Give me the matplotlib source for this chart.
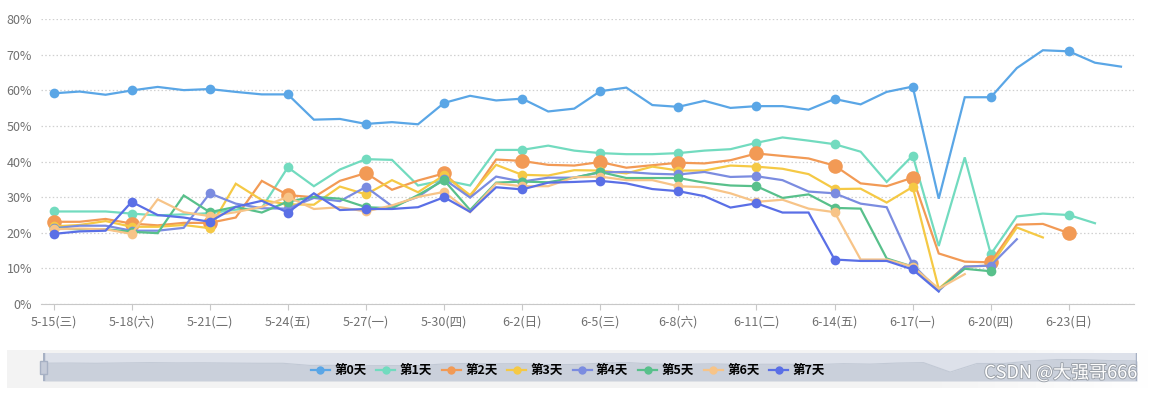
import numpy as np
import matplotlib
matplotlib.use("Agg")
import matplotlib.pyplot as plt
import matplotlib.patheffects as pe
from matplotlib.lines import Line2D

plt.rcParams['font.family'] = ['Noto Sans CJK SC', 'DejaVu Sans']

# Fechas (5-15 .. 6-25), etiquetas cada 3 días
fechas = ["5-15", "5-16", "5-17", "5-18", "5-19", "5-20", "5-21", "5-22", "5-23", "5-24",
          "5-25", "5-26", "5-27", "5-28", "5-29", "5-30", "5-31", "6-1", "6-2", "6-3",
          "6-4", "6-5", "6-6", "6-7", "6-8", "6-9", "6-10", "6-11", "6-12", "6-13",
          "6-14", "6-15", "6-16", "6-17", "6-18", "6-19", "6-20", "6-21", "6-22", "6-23",
          "6-24", "6-25"]
etiquetas_x = ["5-15(三)", "5-18(六)", "5-21(二)", "5-24(五)", "5-27(一)", "5-30(四)", "6-2(日)",
               "6-5(三)", "6-8(六)", "6-11(二)", "6-14(五)", "6-17(一)", "6-20(四)", "6-23(日)"]

nan = np.nan
dia0 = [59.2, 59.7, 58.8, 60.0, 61.0, 60.1, 60.4, 59.6, 58.9, 58.9, 51.8, 52.0, 50.6, 51.1,
        50.5, 56.5, 58.5, 57.2, 57.7, 54.1, 54.9, 59.8, 60.8, 55.9, 55.4, 57.1, 55.1, 55.6,
        55.6, 54.6, 57.6, 56.1, 59.6, 61.1, 29.6, 58.1, 58.1, 66.3, 71.3, 71.0, 67.8, 66.7]
dia1 = [26.0, 26.0, 26.0, 25.4, 24.9, 25.2, 25.5, 26.5, 27.0, 38.4, 33.1, 37.8, 40.7, 40.5,
        33.3, 34.8, 33.3, 43.3, 43.3, 44.5, 43.1, 42.4, 42.1, 42.1, 42.4, 43.1, 43.5, 45.3,
        46.8, 45.9, 44.9, 42.8, 34.3, 41.7, 16.3, 41.2, 14.0, 24.6, 25.4, 25.0, 22.7, nan]
dia2 = [23.1, 23.1, 23.9, 22.6, 22.1, 22.8, 22.8, 24.3, 34.6, 30.6, 30.0, 34.6, 36.8, 32.1,
        34.7, 36.7, 30.1, 40.6, 40.2, 39.1, 38.9, 39.9, 38.3, 39.0, 39.7, 39.5, 40.4, 42.3,
        41.6, 40.9, 38.9, 33.9, 33.1, 35.5, 14.2, 11.9, 11.7, 22.3, 22.5, 19.9, nan, nan]
dia3 = [21.8, 22.2, 23.3, 21.7, 21.7, 22.2, 21.3, 33.8, 29.2, 28.0, 27.9, 33.0, 30.8, 34.8,
        31.4, 36.2, 30.6, 39.1, 36.3, 36.1, 37.6, 37.5, 36.7, 38.6, 37.5, 37.5, 38.9, 38.6,
        38.0, 36.5, 32.3, 32.4, 28.5, 32.9, 4.3, 10.5, 10.8, 21.5, 18.7, nan, nan, nan]
dia4 = [21.3, 22.0, 22.0, 20.6, 20.6, 21.4, 31.1, 28.2, 26.9, 26.8, 29.8, 28.9, 32.9, 27.5,
        30.1, 35.1, 29.9, 35.8, 34.4, 35.5, 35.5, 37.0, 37.1, 36.6, 36.4, 37.1, 35.7, 35.9,
        34.8, 31.6, 31.1, 28.2, 27.2, 11.1, 3.7, 10.5, 10.8, 18.2, nan, nan, nan, nan]
dia5 = [21.2, 21.0, 21.0, 20.3, 19.9, 30.5, 25.8, 27.3, 25.7, 28.8, 30.1, 29.6, 27.2, 26.9,
        30.6, 34.8, 26.4, 34.1, 34.4, 34.2, 35.5, 37.1, 35.4, 35.4, 35.4, 34.1, 33.3, 33.1,
        29.8, 30.8, 27.0, 26.8, 12.8, 10.5, 4.1, 9.9, 9.2, nan, nan, nan, nan, nan]
dia6 = [21.0, 21.2, 21.0, 19.7, 29.4, 25.8, 24.7, 25.8, 27.3, 30.1, 26.7, 27.2, 26.0, 27.7,
        30.1, 31.5, 25.8, 33.9, 33.1, 33.1, 35.6, 35.8, 34.8, 34.8, 33.1, 32.8, 31.1, 28.7,
        29.3, 26.8, 25.8, 12.5, 12.5, 10.5, 4.3, 8.4, nan, nan, nan, nan, nan, nan]
dia7 = [19.7, 20.4, 20.6, 28.7, 25.0, 24.3, 23.1, 27.3, 29.0, 25.7, 31.1, 26.4, 26.7, 26.7,
        27.2, 30.0, 25.9, 32.8, 32.2, 34.1, 34.3, 34.6, 33.9, 32.3, 31.7, 30.3, 27.1, 28.3,
        25.7, 25.7, 12.5, 12.1, 12.1, 9.7, 3.5, nan, nan, nan, nan, nan, nan, nan]

series = [dia0, dia1, dia2, dia3, dia4, dia5, dia6, dia7]
nombres = ["第0天", "第1天", "第2天", "第3天", "第4天", "第5天", "第6天", "第7天"]
colores = ["#5aa6e6", "#72dbbf", "#f29a55", "#f5c945", "#7b8ce0", "#58c08b", "#f7c488", "#5a6fe6"]
tam_marcador = [7, 7, 10.5, 7, 7, 7, 7, 7]

W, H = 1154, 393
fig = plt.figure(figsize=(W / 100, H / 100), dpi=100)

# Banda gris clara de fondo del slider (se desvanece hacia la derecha)
fondo = fig.add_axes([7 / W, 1 - 388 / H, 1145 / W, 38 / H])
grad = np.linspace(0, 1, 256)
alfa = np.clip((1 - grad) / 0.25, 0, 1) * 0 + np.where(grad < 0.8, 1.0, np.clip((1 - grad) / 0.2, 0, 1))
img = np.ones((1, 256, 4))
img[..., :3] = 0.953
img[0, :, 3] = alfa
fondo.imshow(img, aspect="auto", extent=[0, 1, 0, 1])
fondo.set_xlim(0, 1)
fondo.set_ylim(0, 1)
for s in fondo.spines.values():
    s.set_visible(False)
fondo.set_xticks([])
fondo.set_yticks([])

ax = fig.add_axes([40.5 / W, 1 - 304 / H, (1134 - 40.5) / W, (304 - 19.3) / H])
x = np.arange(len(fechas))
for vals, nom, col, ms in zip(series, nombres, colores, tam_marcador):
    ax.plot(x, vals, color=col, lw=1.6, marker="o", markersize=ms, markevery=3,
            markeredgewidth=0, label=nom, solid_joinstyle="miter")

ax.set_xlim(-0.5, len(fechas) - 0.5)
ax.set_ylim(0, 80)
ax.set_yticks(range(0, 81, 10))
ax.set_yticklabels([f"{v}%" for v in range(0, 81, 10)])
ax.set_xticks(np.arange(0, len(fechas), 3)[:len(etiquetas_x)])
ax.set_xticklabels(etiquetas_x)
ax.grid(axis="y", linestyle=(0, (1.2, 1.8)), color="#d0d0d0", lw=0.9)
ax.set_axisbelow(True)
for k in ["top", "right", "left"]:
    ax.spines[k].set_visible(False)
ax.spines["bottom"].set_color("#c8c8c8")
ax.tick_params(axis="y", length=0, labelsize=9, labelcolor="#707070", pad=6)
ax.tick_params(axis="x", length=4, color="#c8c8c8", labelsize=9, labelcolor="#707070", pad=4)

# Slider (dataZoom) con sombra de datos del 第0天
sl = fig.add_axes([42.7 / W, 1 - 381 / H, (1137 - 42.7) / W, 28.3 / H])
sl.set_facecolor("#dde1ea")
sl.fill_between(x, dia0, 0, color="#cad0db", lw=0)
sl.plot(x, dia0, color="#c2c9d5", lw=0.8)
sl.set_xlim(0, len(fechas) - 1)
sl.set_ylim(0, 94)
sl.set_xticks([])
sl.set_yticks([])
for s in sl.spines.values():
    s.set_visible(False)
sl.axvline(0, color="#a7b1c4", lw=2.5)
sl.axvline(len(fechas) - 1, color="#a7b1c4", lw=2.5)
fig.patches.append(plt.Rectangle((40 / W, 1 - 373.5 / H), 6.5 / W, 13 / H, transform=fig.transFigure,
                                 facecolor="#c5cbd8", edgecolor="#a7b1c4", lw=1, zorder=5))

# Leyenda sobre el slider
handles = [Line2D([], [], color=c, lw=1.6, marker="o", markersize=6, markeredgewidth=0) for c in colores]
fig.legend(handles, nombres, loc="center", bbox_to_anchor=(568 / W, 1 - 370.7 / H), ncol=8,
           frameon=False, handlelength=1.5, handletextpad=0.35, columnspacing=0.8,
           prop={"family": ["Noto Sans CJK SC"], "weight": "bold", "size": 9})

# Marca de agua
fig.text(1137 / W, 1 - 373 / H, "CSDN @大强哥666", ha="right", va="center", fontsize=13,
         color="white", path_effects=[pe.withStroke(linewidth=1.3, foreground="#9aa0a8")])

fig.savefig("out.png", dpi=100)
